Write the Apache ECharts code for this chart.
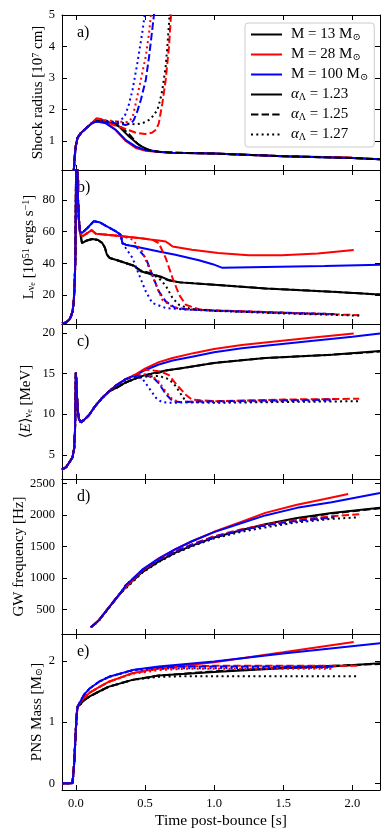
<!DOCTYPE html>
<html>
<head>
<meta charset="utf-8">
<script src="https://cdn.jsdelivr.net/npm/echarts@6/dist/echarts.min.js"></script>
<style>
html, body { margin: 0; padding: 0; background: #fff; }
#main { width: 391px; height: 837px; }
</style>
</head>
<body>
<div id="main"></div>
<script>
var chart = echarts.init(document.getElementById('main'), null, { renderer: 'canvas' });

var FONT = 'Liberation Serif, DejaVu Serif, serif';

// ---- data (time in s after bounce, value) ----
// a) shock radius [1e7 cm]
var shockRise = [[-0.015, 0.05], [-0.008, 0.5], [0.0, 0.85], [0.012, 1.1], [0.036, 1.25], [0.072, 1.4], [0.12, 1.58]];
var shock_13_123 = shockRise.concat([[0.16, 1.65], [0.22, 1.62], [0.27, 1.55], [0.313, 1.46], [0.385, 1.14], [0.457, 0.87], [0.53, 0.71], [0.6, 0.66], [0.7, 0.63], [1.0, 0.6], [1.5, 0.52], [2.0, 0.46], [2.2, 0.42]]);
var shock_13_125 = shockRise.concat([[0.16, 1.65], [0.22, 1.63], [0.27, 1.57], [0.313, 1.5], [0.385, 1.22], [0.445, 0.92], [0.5, 0.76], [0.56, 0.68], [0.65, 0.64], [1.0, 0.6], [1.5, 0.52], [2.0, 0.46], [2.2, 0.42]]);
var shock_13_127 = shockRise.concat([[0.16, 1.65], [0.22, 1.63], [0.3, 1.6], [0.36, 1.56], [0.43, 1.53], [0.48, 1.56], [0.53, 1.67], [0.56, 1.8], [0.59, 1.99], [0.61, 2.3], [0.626, 2.62], [0.65, 3.37], [0.662, 4.0], [0.68, 5.1], [0.69, 5.6]]);
var shock_28_123 = shockRise.concat([[0.15, 1.72], [0.18, 1.7], [0.217, 1.6], [0.289, 1.35], [0.361, 1.0], [0.434, 0.78], [0.506, 0.69], [0.6, 0.65], [0.7, 0.63], [1.0, 0.6], [1.5, 0.52], [2.0, 0.48]]);
var shock_28_125 = shockRise.concat([[0.15, 1.72], [0.2, 1.66], [0.28, 1.5], [0.36, 1.38], [0.43, 1.27], [0.5, 1.22], [0.55, 1.26], [0.58, 1.36], [0.6, 1.56], [0.626, 2.2], [0.65, 2.94], [0.674, 4.0], [0.69, 5.1], [0.7, 5.6]]);
var shock_28_127 = shockRise.concat([[0.15, 1.72], [0.2, 1.67], [0.3, 1.62], [0.38, 1.6], [0.41, 1.75], [0.434, 2.2], [0.47, 2.94], [0.506, 3.69], [0.53, 4.43], [0.545, 5.1], [0.555, 5.5]]);
var shock_100_123 = shockRise.concat([[0.15, 1.62], [0.217, 1.56], [0.289, 1.35], [0.361, 1.03], [0.434, 0.82], [0.506, 0.71], [0.6, 0.66], [0.7, 0.63], [1.0, 0.6], [1.5, 0.52], [2.0, 0.46], [2.2, 0.42]]);
var shock_100_125 = shockRise.concat([[0.15, 1.62], [0.2, 1.6], [0.3, 1.56], [0.36, 1.51], [0.4, 1.56], [0.42, 1.67], [0.445, 1.95], [0.47, 2.3], [0.506, 2.94], [0.53, 3.69], [0.553, 4.54], [0.57, 5.2], [0.58, 5.6]]);
var shock_100_127 = shockRise.concat([[0.15, 1.62], [0.2, 1.62], [0.3, 1.6], [0.35, 1.75], [0.38, 2.1], [0.41, 2.62], [0.445, 3.47], [0.48, 4.43], [0.5, 5.07], [0.51, 5.5]]);

// b) electron neutrino luminosity [1e51 erg/s]
var lumSpike = [[-0.1, 2.0], [-0.07, 2.6], [-0.048, 4.4], [-0.035, 6.5], [-0.024, 9.7], [-0.015, 16], [-0.008, 28], [-0.003, 45], [0.0, 75], [0.003, 115], [0.007, 135], [0.011, 100], [0.016, 80], [0.022, 68], [0.03, 60]];
var lum_13_123 = lumSpike.concat([[0.045, 52.8], [0.08, 54.5], [0.12, 55.4], [0.16, 54.8], [0.19, 53], [0.21, 50], [0.225, 45.5], [0.245, 43.4], [0.3, 42], [0.36, 40.2], [0.42, 38.5], [0.47, 35], [0.55, 33], [0.62, 31.5], [0.67, 29.5], [0.75, 28], [1.0, 26.5], [1.37, 24.2], [1.85, 22.1], [2.2, 20.3]]);
var lum_13_125 = lumSpike.concat([[0.045, 52.8], [0.08, 54.5], [0.12, 55.4], [0.16, 54.8], [0.19, 53], [0.21, 50], [0.225, 45.5], [0.245, 43.4], [0.3, 42], [0.36, 40.2], [0.42, 38.5], [0.47, 35.5], [0.55, 33.5], [0.62, 31], [0.67, 29.3], [0.75, 28], [1.0, 26.5], [1.37, 24.2], [1.85, 22.1], [2.2, 20.3]]);
var lum_13_127 = lumSpike.concat([[0.045, 52.8], [0.08, 54.5], [0.12, 55.4], [0.16, 54.8], [0.19, 53], [0.21, 50], [0.225, 45.5], [0.245, 43.4], [0.3, 42], [0.36, 40.2], [0.42, 38.5], [0.47, 35], [0.55, 33], [0.6, 30.7], [0.65, 26], [0.7, 18], [0.75, 13.5], [0.84, 11], [1.0, 10], [1.5, 8.4], [2.05, 7.0]]);
var lum_28_123 = lumSpike.concat([[0.045, 57], [0.08, 59], [0.115, 61], [0.145, 58.7], [0.24, 58], [0.35, 57], [0.457, 56], [0.55, 55], [0.6, 54.5], [0.65, 53.8], [0.68, 52], [0.7, 50.7], [0.84, 48.6], [1.03, 46.5], [1.25, 45.1], [1.49, 45.1], [1.75, 46.3], [2.01, 48.5]]);
var lum_28_125 = lumSpike.concat([[0.045, 57], [0.08, 59], [0.115, 61], [0.145, 58.7], [0.24, 58], [0.35, 57], [0.457, 56], [0.553, 55], [0.6, 52.8], [0.65, 43.4], [0.7, 30.7], [0.747, 20.2], [0.795, 13.9], [0.89, 11], [1.0, 10.3], [1.37, 9.3], [1.7, 8.2], [2.05, 7.3]]);
var lum_28_127 = lumSpike.concat([[0.045, 57], [0.08, 59], [0.115, 61], [0.145, 58.7], [0.24, 58], [0.35, 57], [0.41, 55], [0.457, 50], [0.48, 47.6], [0.53, 37], [0.58, 26.5], [0.626, 17], [0.7, 12.5], [0.8, 11], [1.0, 10.2], [1.5, 8.8], [1.85, 8.0]]);
var lum_100_123 = lumSpike.concat([[0.045, 59.2], [0.08, 62], [0.13, 66.6], [0.17, 66], [0.29, 60.2], [0.325, 58], [0.337, 52.8], [0.361, 51.8], [0.48, 49.7], [0.6, 47.5], [0.72, 45.5], [0.89, 42], [0.99, 39.5], [1.06, 37.2], [1.37, 37.7], [1.8, 38.3], [2.2, 39.1]]);
var lum_100_125 = lumSpike.concat([[0.045, 59.2], [0.08, 62], [0.13, 66.6], [0.17, 66], [0.29, 60.2], [0.325, 58], [0.337, 52.8], [0.361, 51.8], [0.434, 50.7], [0.506, 43.4], [0.553, 32.8], [0.6, 22.3], [0.65, 16], [0.72, 11.8], [0.8, 11], [1.0, 10.2], [1.5, 8.8], [1.87, 8]]);
var lum_100_127 = lumSpike.concat([[0.045, 59.2], [0.08, 62], [0.13, 66.6], [0.17, 66], [0.29, 60.2], [0.325, 58], [0.337, 52.8], [0.361, 49.7], [0.41, 43.4], [0.457, 32.8], [0.506, 22.3], [0.553, 15], [0.65, 11.8], [0.8, 10.8], [1.0, 10.1], [1.5, 8.7], [1.85, 7.9]]);

// c) mean electron neutrino energy [MeV]
var eRise = [[-0.1, 3.2], [-0.07, 3.5], [-0.05, 4.0], [-0.035, 4.4], [-0.024, 4.7], [-0.012, 5.8], [-0.006, 8], [-0.002, 12], [0.0, 15.1], [0.004, 14], [0.009, 12], [0.014, 10.5], [0.022, 9.4], [0.036, 9.0], [0.06, 9.3], [0.096, 9.9], [0.14, 11], [0.19, 12], [0.24, 12.8]];
var e_13_123 = eRise.concat([[0.3, 13.3], [0.361, 13.9], [0.434, 14.4], [0.5, 14.8], [0.6, 15.2], [0.66, 15.4], [0.75, 15.6], [1.0, 16.3], [1.37, 16.9], [1.85, 17.3], [2.2, 17.75]]);
var e_13_125 = eRise.concat([[0.3, 13.3], [0.361, 13.9], [0.434, 14.4], [0.5, 14.8], [0.6, 15.1], [0.66, 15.4], [0.75, 15.6], [1.0, 16.3], [1.37, 16.9], [1.85, 17.3], [2.2, 17.7]]);
var e_13_127 = eRise.concat([[0.3, 13.3], [0.361, 13.9], [0.434, 14.4], [0.5, 14.6], [0.6, 14.7], [0.674, 14.3], [0.72, 13.5], [0.77, 12.2], [0.8, 11.5], [1.0, 11.4], [1.5, 11.5], [2.05, 11.6]]);
var e_28_123 = eRise.concat([[0.289, 13.5], [0.361, 14.3], [0.434, 14.9], [0.5, 15.6], [0.6, 16.4], [0.7, 16.9], [0.85, 17.5], [1.0, 18], [1.2, 18.5], [1.37, 18.8], [1.7, 19.4], [2.01, 19.9]]);
var e_28_125 = eRise.concat([[0.289, 13.5], [0.361, 14.3], [0.434, 14.9], [0.5, 15.5], [0.55, 15.4], [0.62, 15.2], [0.674, 14.8], [0.73, 13.6], [0.795, 12.4], [0.84, 11.8], [0.9, 11.7], [1.0, 11.6], [1.5, 11.8], [2.05, 11.9]]);
var e_28_127 = eRise.concat([[0.289, 13.5], [0.361, 14.3], [0.434, 14.8], [0.5, 14.9], [0.56, 14.6], [0.6, 14.0], [0.65, 12.8], [0.7, 11.8], [0.75, 11.5], [1.0, 11.6], [1.5, 11.7], [1.85, 11.8]]);
var e_100_123 = eRise.concat([[0.289, 13.5], [0.361, 14.3], [0.434, 14.8], [0.5, 15.4], [0.6, 16.1], [0.7, 16.6], [0.85, 17.1], [1.0, 17.6], [1.2, 18.1], [1.37, 18.4], [1.7, 19.0], [2.0, 19.5], [2.2, 19.9]]);
var e_100_125 = eRise.concat([[0.289, 13.5], [0.361, 14.3], [0.434, 14.7], [0.5, 14.8], [0.56, 14.5], [0.6, 13.8], [0.65, 12.5], [0.7, 11.6], [0.75, 11.5], [1.0, 11.6], [1.5, 11.7], [1.87, 11.8]]);
var e_100_127 = eRise.concat([[0.289, 13.5], [0.361, 14.3], [0.434, 14.6], [0.48, 14.4], [0.53, 13.2], [0.58, 12.0], [0.62, 11.5], [0.674, 11.4], [1.0, 11.5], [1.5, 11.6], [1.85, 11.7]]);

// d) GW frequency [Hz]
var gwRise = [[0.108, 214], [0.14, 270], [0.168, 330], [0.2, 420], [0.265, 600], [0.32, 750]];
var gw_13_123 = gwRise.concat([[0.361, 850], [0.48, 1090], [0.6, 1260], [0.72, 1400], [0.84, 1510], [1.0, 1640], [1.2, 1760], [1.37, 1850], [1.6, 1950], [1.85, 2030], [2.2, 2110]]);
var gw_13_125 = gwRise.concat([[0.361, 850], [0.48, 1090], [0.6, 1260], [0.72, 1400], [0.84, 1510], [1.0, 1640], [1.2, 1755], [1.37, 1840], [1.6, 1940], [1.85, 2020], [2.2, 2105]]);
var gw_13_127 = gwRise.concat([[0.361, 830], [0.48, 1080], [0.6, 1250], [0.72, 1390], [0.84, 1500], [1.0, 1625], [1.2, 1730], [1.37, 1800], [1.6, 1880], [1.85, 1935], [2.05, 1960]]);
var gw_28_123 = gwRise.concat([[0.361, 850], [0.48, 1110], [0.6, 1300], [0.72, 1450], [0.84, 1580], [1.0, 1730], [1.2, 1890], [1.37, 2030], [1.6, 2160], [1.8, 2250], [1.97, 2330]]);
var gw_28_125 = gwRise.concat([[0.361, 850], [0.48, 1110], [0.6, 1290], [0.72, 1420], [0.84, 1530], [1.0, 1660], [1.2, 1770], [1.37, 1845], [1.6, 1920], [1.85, 1975], [2.05, 2010]]);
var gw_28_127 = gwRise.concat([[0.361, 850], [0.48, 1110], [0.6, 1290], [0.72, 1415], [0.84, 1525], [1.0, 1650], [1.2, 1760], [1.37, 1835], [1.6, 1905], [1.85, 1955]]);
var gw_100_123 = gwRise.concat([[0.361, 880], [0.48, 1130], [0.6, 1310], [0.72, 1455], [0.84, 1580], [1.0, 1725], [1.2, 1870], [1.37, 1990], [1.6, 2110], [1.85, 2200], [2.2, 2345]]);
var gw_100_125 = gwRise.concat([[0.361, 880], [0.48, 1120], [0.6, 1295], [0.72, 1420], [0.84, 1525], [1.0, 1650], [1.2, 1760], [1.37, 1835], [1.6, 1905], [1.87, 1960]]);
var gw_100_127 = gwRise.concat([[0.361, 880], [0.48, 1115], [0.6, 1285], [0.72, 1410], [0.84, 1515], [1.0, 1640], [1.2, 1750], [1.37, 1825], [1.6, 1895], [1.85, 1950]]);

// e) PNS mass [Msun]
var massRise = [[-0.1, 0], [-0.025, 0], [-0.018, 0.15], [-0.012, 0.33], [-0.006, 0.6], [0.0, 0.87], [0.006, 1.1], [0.012, 1.25]];
var mass_13_123 = massRise.concat([[0.036, 1.3], [0.06, 1.36], [0.1, 1.42], [0.168, 1.5], [0.24, 1.58], [0.41, 1.69], [0.6, 1.76], [1.0, 1.82], [1.5, 1.88], [1.85, 1.91], [2.2, 1.96]]);
var mass_13_125 = massRise.concat([[0.036, 1.3], [0.06, 1.36], [0.1, 1.42], [0.168, 1.5], [0.24, 1.58], [0.41, 1.69], [0.6, 1.76], [1.0, 1.83], [1.5, 1.89], [1.85, 1.92], [2.2, 1.95]]);
var mass_13_127 = massRise.concat([[0.036, 1.3], [0.06, 1.36], [0.1, 1.42], [0.168, 1.5], [0.24, 1.58], [0.41, 1.69], [0.6, 1.74], [0.8, 1.75], [2.05, 1.75]]);
var mass_28_123 = massRise.concat([[0.036, 1.33], [0.06, 1.4], [0.1, 1.48], [0.168, 1.57], [0.24, 1.66], [0.41, 1.8], [0.6, 1.88], [1.0, 1.98], [1.5, 2.14], [2.01, 2.31]]);
var mass_28_125 = massRise.concat([[0.036, 1.33], [0.06, 1.4], [0.1, 1.48], [0.168, 1.57], [0.24, 1.66], [0.41, 1.8], [0.6, 1.87], [0.8, 1.91], [1.0, 1.92], [2.05, 1.92]]);
var mass_28_127 = massRise.concat([[0.036, 1.33], [0.06, 1.4], [0.1, 1.48], [0.168, 1.57], [0.24, 1.66], [0.41, 1.79], [0.6, 1.85], [0.8, 1.87], [1.85, 1.87]]);
var mass_100_123 = massRise.concat([[0.036, 1.35], [0.06, 1.45], [0.1, 1.55], [0.168, 1.66], [0.24, 1.74], [0.41, 1.85], [0.6, 1.91], [1.0, 1.99], [1.5, 2.12], [2.2, 2.29]]);
var mass_100_125 = massRise.concat([[0.036, 1.35], [0.06, 1.45], [0.1, 1.55], [0.168, 1.66], [0.24, 1.74], [0.41, 1.85], [0.6, 1.9], [0.8, 1.91], [1.87, 1.91]]);
var mass_100_127 = massRise.concat([[0.036, 1.35], [0.06, 1.45], [0.1, 1.55], [0.168, 1.66], [0.24, 1.74], [0.41, 1.84], [0.55, 1.87], [0.8, 1.88], [1.85, 1.89]]);

// panel -> alpha -> mass
var panels = [
    [[shock_13_123, shock_28_123, shock_100_123], [shock_13_125, shock_28_125, shock_100_125], [shock_13_127, shock_28_127, shock_100_127]],
    [[lum_13_123, lum_28_123, lum_100_123], [lum_13_125, lum_28_125, lum_100_125], [lum_13_127, lum_28_127, lum_100_127]],
    [[e_13_123, e_28_123, e_100_123], [e_13_125, e_28_125, e_100_125], [e_13_127, e_28_127, e_100_127]],
    [[gw_13_123, gw_28_123, gw_100_123], [gw_13_125, gw_28_125, gw_100_125], [gw_13_127, gw_28_127, gw_100_127]],
    [[mass_13_123, mass_28_123, mass_100_123], [mass_13_125, mass_28_125, mass_100_125], [mass_13_127, mass_28_127, mass_100_127]]
];

var xTicks = [0, 0.5, 1.0, 1.5, 2.0];
var yTicks = [[1, 2, 3, 4, 5], [20, 40, 60, 80], [5, 10, 15, 20], [500, 1000, 1500, 2000, 2500], [0, 1, 2]];
var yMin = [0.08, 1.7, 2.04, 108, -0.11];
var yMax = [5.0, 99, 21.08, 2568, 2.44];
var panelLetters = ['a)', 'b)', 'c)', 'd)', 'e)'];
var yNames = [
    'Shock radius [10{sup|7} cm]',
    'L{sub|ν}{ssub|e} [10{sup|51} ergs s{sup|−1}]',
    '⟨{it|E}⟩{sub|ν}{ssub|e} [MeV]',
    'GW frequency [Hz]',
    'PNS Mass [M{sub|⊙}]'
];
var massLabels = ['M = 13 M{sub|⊙}', 'M = 28 M{sub|⊙}', 'M = 100 M{sub|⊙}'];
var alphaLabels = ['{it|α}{sub|Λ} = 1.23', '{it|α}{sub|Λ} = 1.25', '{it|α}{sub|Λ} = 1.27'];

var colors = ['#000000', '#ff0000', '#0000ff'];
var dashes = ['solid', [7.4, 3.2], [2, 3.3]];

// layout
var gridTop = [15, 170, 324, 479, 634];
var gridHeight = [155, 154, 155, 155, 156];
var nameGaps = [16, 25.5, 28.5, 35, 17.5];

var rich = {
    sup: { fontFamily: FONT, fontSize: 10, verticalAlign: 'top', lineHeight: 12, color: '#000' },
    sub: { fontFamily: FONT, fontSize: 10, verticalAlign: 'bottom', lineHeight: 12, color: '#000' },
    ssub: { fontFamily: FONT, fontSize: 8, verticalAlign: 'bottom', lineHeight: 9, color: '#000' },
    it: { fontFamily: FONT, fontStyle: 'italic', color: '#000' }
};

var grids = [], xAxes = [], yAxes = [], series = [], titles = [];
var axisLineStyle = { color: '#000', width: 1 };

for (var p = 0; p < 5; p++) {
    grids.push({ left: 62, right: 11, top: gridTop[p], height: gridHeight[p] });
    xAxes.push({
        type: 'value', gridIndex: p, min: -0.1, max: 2.2, position: 'bottom',
        axisLine: { show: true, onZero: false, lineStyle: axisLineStyle },
        axisTick: { show: true, inside: true, length: 5, customValues: xTicks, lineStyle: axisLineStyle },
        axisLabel: {
            show: p === 4, customValues: xTicks, margin: 7,
            fontFamily: FONT, fontSize: 12.5, color: '#000',
            formatter: function (v) { return v.toFixed(1); }
        },
        splitLine: { show: false },
        name: p === 4 ? 'Time post-bounce [s]' : '',
        nameLocation: 'middle', nameGap: 23, nameMoveOverlap: false,
        nameTextStyle: { fontFamily: FONT, fontSize: 15.5, color: '#000' }
    });
    xAxes.push({
        type: 'value', gridIndex: p, min: -0.1, max: 2.2, position: 'top',
        axisLine: { show: true, onZero: false, lineStyle: axisLineStyle },
        axisTick: { show: true, inside: true, length: 5, customValues: xTicks, lineStyle: axisLineStyle },
        axisLabel: { show: false },
        splitLine: { show: false }
    });
    yAxes.push({
        type: 'value', gridIndex: p, min: yMin[p], max: yMax[p], position: 'left',
        name: yNames[p], nameLocation: 'middle', nameGap: nameGaps[p], nameRotate: 90,
        nameMoveOverlap: false,
        nameTextStyle: { fontFamily: FONT, fontSize: 15, color: '#000', rich: rich },
        axisLine: { show: true, onZero: false, lineStyle: axisLineStyle },
        axisTick: { show: true, inside: true, length: 5, customValues: yTicks[p], lineStyle: axisLineStyle },
        axisLabel: {
            customValues: yTicks[p], margin: 7, fontFamily: FONT, fontSize: 12.5, color: '#000',
            formatter: function (v) { return String(v); }
        },
        splitLine: { show: false }
    });
    yAxes.push({
        type: 'value', gridIndex: p, min: yMin[p], max: yMax[p], position: 'right',
        axisLine: { show: true, onZero: false, lineStyle: axisLineStyle },
        axisTick: { show: true, inside: true, length: 5, customValues: yTicks[p], lineStyle: axisLineStyle },
        axisLabel: { show: false },
        splitLine: { show: false }
    });
    titles.push({
        text: panelLetters[p], left: 77, top: gridTop[p] + 10, padding: 0, z: 0,
        textStyle: { fontFamily: FONT, fontSize: 16, fontWeight: 'normal', color: '#000' }
    });
    for (var a = 0; a < 3; a++) {
        for (var m = 0; m < 3; m++) {
            series.push({
                type: 'line', xAxisIndex: 2 * p, yAxisIndex: 2 * p,
                data: panels[p][a][m], symbol: 'none', showSymbol: false, clip: true, silent: true,
                lineStyle: { color: colors[m], width: 2, type: dashes[a] },
                z: 2
            });
        }
    }
}

// legend entries (empty series only carry the legend style)
var legendNames = ['m13', 'm28', 'm100', 'a123', 'a125', 'a127'];
var legendText = massLabels.concat(alphaLabels);
for (var i = 0; i < 6; i++) {
    var c = i < 3 ? colors[i] : '#000000';
    var d = i < 3 ? 'solid' : dashes[i - 3];
    series.push({
        name: legendNames[i], type: 'line', xAxisIndex: 0, yAxisIndex: 0, data: [],
        symbol: 'none', color: c, itemStyle: { color: c, opacity: 0 },
        lineStyle: { color: c, width: 2, type: d }
    });
}

chart.setOption({
    animation: false,
    backgroundColor: '#ffffff',
    title: titles,
    grid: grids,
    xAxis: xAxes,
    yAxis: yAxes,
    legend: {
        orient: 'vertical', left: 245, top: 23,
        itemWidth: 31, itemHeight: 14, itemGap: 5,
        padding: [4, 6, 5, 5],
        backgroundColor: 'rgba(255,255,255,0.85)',
        borderColor: '#cccccc', borderWidth: 1, borderRadius: 3,
        selectedMode: false,
        data: legendNames,
        itemStyle: { opacity: 0 },
        formatter: function (name) { return legendText[legendNames.indexOf(name)]; },
        textStyle: { fontFamily: FONT, fontSize: 15, color: '#000', padding: [0, 0, 0, 4], rich: rich }
    },
    series: series
});
</script>
</body>
</html>
